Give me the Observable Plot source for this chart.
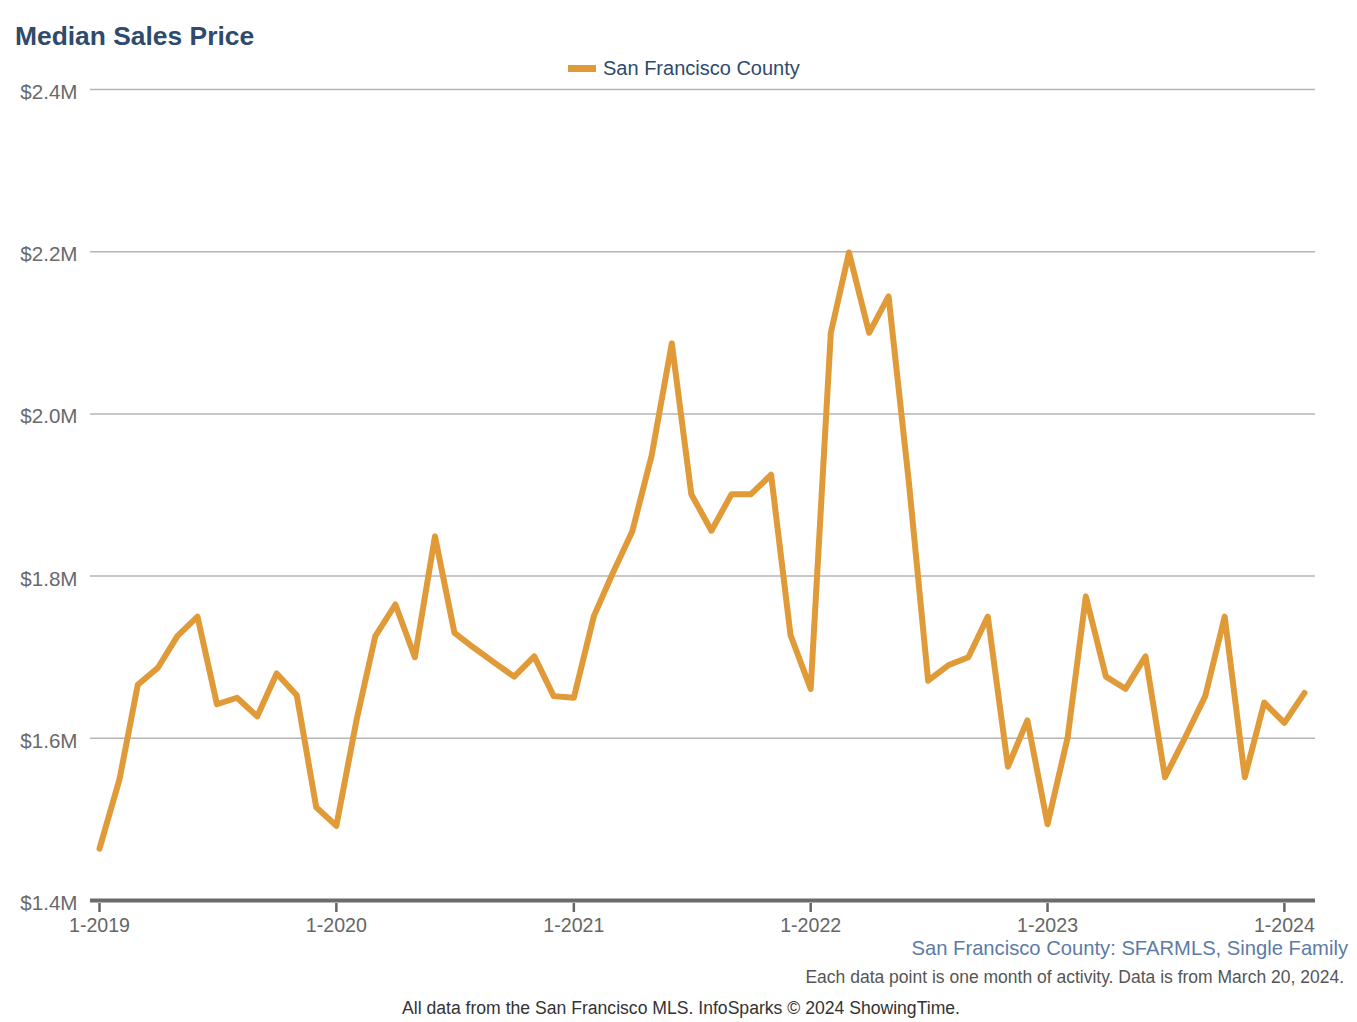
<!DOCTYPE html>
<html>
<head>
<meta charset="utf-8">
<script src="https://cdn.jsdelivr.net/npm/d3@7"></script>
<script src="https://cdn.jsdelivr.net/npm/@observablehq/plot@0.6"></script>
<style>
  body { margin: 0; background: #fff; font-family: "Liberation Sans", Arial, sans-serif; }
  #wrap { position: relative; width: 1357px; height: 1022px; overflow: hidden; }
  #title { position: absolute; left: 15px; top: 21px; font-size: 26.4px; font-weight: bold; color: #2f4a6d; }
  #legend { position: absolute; left: 568px; top: 57px; font-size: 20px; color: #2f4a6d; display: flex; align-items: center; white-space: nowrap; }
  #legend .sw { width: 28px; height: 7px; background: #E09A38; margin-right: 7px; }
  #chart { position: absolute; left: 0; top: 80px; }
  .cap { position: absolute; white-space: nowrap; }
  #cap1 { right: 9px; top: 937px; font-size: 20.2px; color: #5d7ba6; }
  #cap2 { right: 13px; top: 967px; font-size: 17.5px; color: #555; }
  #cap3 { left: 0; width: 1362px; text-align: center; top: 998px; font-size: 17.6px; color: #333; }
</style>
</head>
<body>
<div id="wrap">
  <div id="title">Median Sales Price</div>
  <div id="legend"><span class="sw"></span><span>San Francisco County</span></div>
  <div id="chart"></div>
  <div class="cap" id="cap1">San Francisco County: SFARMLS, Single Family</div>
  <div class="cap" id="cap2">Each data point is one month of activity. Data is from March 20, 2024.</div>
  <div class="cap" id="cap3">All data from the San Francisco MLS. InfoSparks © 2024 ShowingTime.</div>
</div>
<script>
// Monthly median sales price (millions of USD), Jan 2019 – Feb 2024
const startYear = 2019;
const prices = [
  1.464, 1.550, 1.666, 1.687, 1.726, 1.750, 1.642, 1.650, 1.627, 1.680, 1.653, 1.515,
  1.492, 1.622, 1.726, 1.765, 1.700, 1.849, 1.730, 1.711, 1.693, 1.676, 1.701, 1.652,
  1.650, 1.751, 1.802, 1.855, 1.949, 2.087, 1.901, 1.856, 1.901, 1.901, 1.925, 1.727,
  1.661, 2.100, 2.199, 2.100, 2.145, 1.918, 1.671, 1.690, 1.700, 1.750, 1.565, 1.622,
  1.494, 1.601, 1.775, 1.676, 1.661, 1.701, 1.552, 1.601, 1.652, 1.750, 1.552, 1.644,
  1.619, 1.656
];
const yTicks = [1.4, 1.6, 1.8, 2.0, 2.2, 2.4];
const yTickLabels = ["$1.4M", "$1.6M", "$1.8M", "$2.0M", "$2.2M", "$2.4M"];
const xTickYears = [2019, 2020, 2021, 2022, 2023, 2024];
const xTickLabels = ["1-2019", "1-2020", "1-2021", "1-2022", "1-2023", "1-2024"];
const seriesName = "San Francisco County";

const data = prices.map((v, i) => ({
  date: new Date(Date.UTC(startYear + Math.floor(i / 12), i % 12, 1)),
  value: v,
  series: seriesName
}));
const xTicks = xTickYears.map(y => new Date(Date.UTC(y, 0, 1)));
const fmtX = d => xTickLabels[xTickYears.indexOf(d.getUTCFullYear())];
const fmtY = v => yTickLabels[yTicks.findIndex(t => Math.abs(t - v) < 1e-9)];

const chart = Plot.plot({
  width: 1357,
  height: 860,
  marginTop: 9,
  marginBottom: 40,
  marginLeft: 90,
  marginRight: 42,
  insetLeft: 9,
  insetRight: 11,
  style: { fontFamily: "'Liberation Sans', Arial, sans-serif", fontSize: "19px", color: "#666", background: "#fff" },
  x: { type: "utc", domain: [data[0].date, data[data.length - 1].date] },
  y: { domain: [1.4, 2.4] },
  marks: [
    Plot.ruleY(yTicks.filter(t => t > 1.4), { stroke: "#b5b5b5", strokeWidth: 1.5 }),
    Plot.axisY({ ticks: yTicks, tickFormat: fmtY, tickSize: 0, tickPadding: 13, label: null, fill: "#6a6a6a", fontSize: 20.6, dy: 3 }),
    Plot.axisX({ ticks: xTicks, tickFormat: fmtX, tickSize: 9, tickPadding: 6, label: null, stroke: "#666", strokeWidth: 2.5, fill: "#666", fontSize: 19.6, dy: 3 }),
    Plot.ruleY([1.4], { stroke: "#6b6b6b", strokeWidth: 4 }),
    Plot.line(data, { x: "date", y: "value", stroke: "#E09A38", strokeWidth: 6, strokeLinejoin: "round", strokeLinecap: "round" })
  ]
});
document.getElementById("chart").appendChild(chart);
</script>
</body>
</html>
